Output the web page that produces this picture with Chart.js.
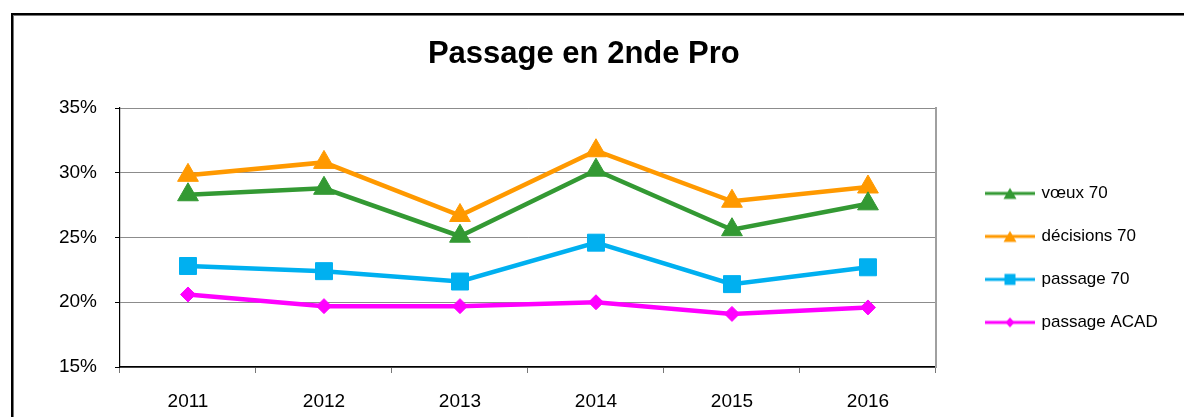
<!DOCTYPE html>
<html><head><meta charset="utf-8">
<script src="https://cdn.jsdelivr.net/npm/chart.js@4.4.1/dist/chart.umd.min.js"></script>
<style>
html,body{margin:0;padding:0;background:#fff;overflow:hidden;}
#wrap{position:relative;width:1184px;height:417px;}
#frame{position:absolute;left:11px;top:13px;width:1300px;height:600px;border-left:2px solid #000;border-top:2px solid #000;box-shadow:inset 1px 1px 0 #777;pointer-events:none;}
canvas{display:block;}
</style></head><body>
<div id="wrap"><canvas id="c" width="1184" height="417"></canvas><div id="frame"></div></div>
<script>
const categories = ['2011', '2012', '2013', '2014', '2015', '2016'];
const voeux70 = [28.3, 28.8, 25.1, 30.2, 25.6, 27.6];
const decisions70 = [29.8, 30.8, 26.7, 31.7, 27.8, 28.9];
const passage70 = [22.8, 22.4, 21.6, 24.6, 21.4, 22.7];
const passageACAD = [20.6, 19.7, 19.7, 20.0, 19.1, 19.6];
const yTickValues = [15, 20, 25, 30, 35];
const seriesNames = ['vœux 70', 'décisions 70', 'passage 70', 'passage ACAD'];
const chartTitle = 'Passage en 2nde Pro';

const FONT = "'Liberation Sans', Arial, Helvetica, sans-serif";
Chart.defaults.font.family = FONT;
Chart.defaults.color = '#000';

const styles = [
  {color: '#339933', shape: 'triangle', r: 12},
  {color: '#FF9900', shape: 'triangle', r: 12},
  {color: '#00B0F0', shape: 'rect', r: 12},
  {color: '#FF00FF', shape: 'rectRot', r: 7.5}
];

function sample(color, shape) {
  const c = document.createElement('canvas');
  c.width = 50; c.height = 16;
  const g = c.getContext('2d');
  g.strokeStyle = color; g.lineWidth = 3;
  g.beginPath(); g.moveTo(0, 8); g.lineTo(50, 8); g.stroke();
  g.fillStyle = color; g.beginPath();
  if (shape === 'triangle') { g.moveTo(25, 2.5); g.lineTo(31.5, 13.5); g.lineTo(18.5, 13.5); }
  else if (shape === 'rect') { g.rect(19.5, 2.5, 11, 11); }
  else { g.moveTo(25, 3); g.lineTo(29.5, 8); g.lineTo(25, 13); g.lineTo(20.5, 8); }
  g.closePath(); g.fill();
  return c;
}
const legendSamples = styles.map(s => sample(s.color, s.shape));

const seriesData = [voeux70, decisions70, passage70, passageACAD];
const datasets = seriesData.map((d, i) => ({
  label: seriesNames[i],
  data: d,
  yAxisID: 'y',
  borderColor: styles[i].color,
  backgroundColor: styles[i].color,
  pointBackgroundColor: styles[i].color,
  pointBorderColor: styles[i].color,
  pointStyle: styles[i].shape,
  pointRadius: styles[i].r,
  pointHoverRadius: styles[i].r,
  pointBorderWidth: 1,
  borderWidth: 4.5,
  tension: 0,
  fill: false
}));

new Chart(document.getElementById('c'), {
  type: 'line',
  data: { labels: categories, datasets },
  options: {
    responsive: false,
    animation: false,
    devicePixelRatio: 1,
    layout: { padding: { left: 0, right: 16.3, top: 0, bottom: 0 } },
    plugins: {
      tooltip: { enabled: false },
      title: {
        display: true, text: chartTitle, color: '#000',
        font: { size: 31, weight: 'bold', family: FONT },
        padding: { top: 35.4, bottom: 35.4 }
      },
      legend: {
        position: 'right', align: 'center', maxWidth: 400,
        title: { display: true, text: '', font: { size: 12, lineHeight: 1.2 }, padding: { top: 84.4, bottom: 0 } },
        labels: {
          usePointStyle: true, pointStyleWidth: 46, padding: 26, color: '#000',
          font: { size: 17, family: FONT },
          generateLabels: chart => chart.data.datasets.map((ds, i) => ({
            text: ds.label, pointStyle: legendSamples[i], fillStyle: ds.borderColor,
            strokeStyle: ds.borderColor, lineWidth: 0, hidden: false, datasetIndex: i
          }))
        }
      }
    },
    scales: {
      x: {
        offset: true,
        grid: { offset: true, drawOnChartArea: false, drawTicks: true, tickLength: 6, tickColor: '#777', color: '#777' },
        border: { color: '#000', width: 1.5 },
        ticks: { font: { size: 19 }, padding: 17, color: '#000', maxRotation: 0, autoSkip: false },
        afterFit: s => { s.height = 50; }
      },
      y: {
        min: 15, max: 35,
        afterBuildTicks: s => { s.ticks = yTickValues.map(v => ({ value: v })); },
        ticks: { padding: 18, font: { size: 19 }, color: '#000', callback: v => v + '%' },
        grid: { color: '#8c8c8c', lineWidth: 1, tickColor: '#000', tickLength: 5 },
        border: { color: '#000', width: 1.2 },
        afterFit: s => { s.width = 120; }
      },
      y2: {
        position: 'right', display: true, min: 15, max: 35,
        grid: { drawOnChartArea: false, drawTicks: false },
        ticks: { display: false },
        border: { color: '#a0a0a0', width: 2 },
        afterFit: s => { s.width = 25; }
      }
    }
  }
});
</script>
</body></html>
